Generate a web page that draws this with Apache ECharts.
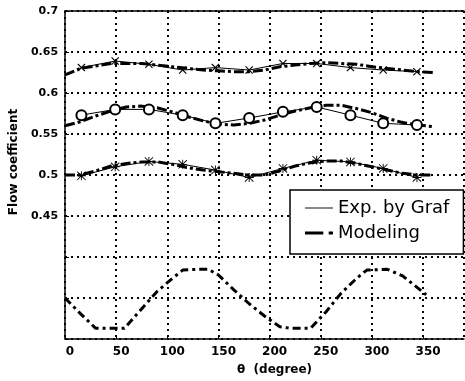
<!DOCTYPE html>
<html><head><meta charset="utf-8">
<script src="https://cdn.jsdelivr.net/npm/echarts@6/dist/echarts.min.js"></script>
<style>html,body{margin:0;padding:0;background:#fff}#c{width:465px;height:381px}</style>
</head><body><div id="c"></div>
<script>
// ---- data ----
const thetaExp = [16, 49, 82, 115, 147, 180, 213, 246, 279, 311, 344];
const expTop = [0.631, 0.639, 0.635, 0.628, 0.631, 0.628, 0.636, 0.636, 0.631, 0.628, 0.626];
const expMid = [0.573, 0.580, 0.580, 0.573, 0.563, 0.5695, 0.577, 0.583, 0.573, 0.563, 0.561];
const expLow = [0.499, 0.510, 0.5165, 0.513, 0.506, 0.497, 0.508, 0.518, 0.516, 0.508, 0.497];

const thetaModel = [0, 15, 30, 45, 60, 75, 90, 105, 120, 135, 150, 165, 180, 195, 210, 225, 240, 255, 270, 285, 300, 315, 330, 345, 360];
const modelTop = [0.622, 0.630, 0.633, 0.636, 0.636, 0.636, 0.634, 0.632, 0.630, 0.628, 0.627, 0.626, 0.626, 0.628, 0.632, 0.634, 0.636, 0.637, 0.636, 0.635, 0.632, 0.630, 0.628, 0.626, 0.625];
const modelMid = [0.560, 0.565, 0.572, 0.578, 0.583, 0.584, 0.582, 0.577, 0.571, 0.566, 0.562, 0.561, 0.563, 0.567, 0.573, 0.578, 0.582, 0.585, 0.585, 0.581, 0.576, 0.569, 0.564, 0.561, 0.559];
const modelLow = [0.500, 0.500, 0.505, 0.511, 0.514, 0.516, 0.516, 0.513, 0.509, 0.506, 0.504, 0.502, 0.500, 0.500, 0.505, 0.511, 0.515, 0.517, 0.517, 0.514, 0.510, 0.506, 0.502, 0.500, 0.500];

const thetaProfile = [0, 15, 30, 45, 58, 75, 90, 105, 115, 130, 140, 150, 165, 180, 195, 210, 220, 240, 255, 270, 285, 295, 315, 330, 345, 353];
const profile = [0.350, 0.331, 0.313, 0.313, 0.313, 0.337, 0.358, 0.374, 0.384, 0.385, 0.385, 0.378, 0.360, 0.343, 0.328, 0.315, 0.313, 0.313, 0.333, 0.356, 0.374, 0.384, 0.385, 0.377, 0.362, 0.354];

const xTickLabels = ['0', '50', '100', '150', '200', '250', '300', '350'];
const yTickLabels = ['0.45', '0.5', '0.55', '0.6', '0.65', '0.7'];

// ---- helpers ----
const zip = (xs, ys) => xs.map((x, i) => [x, ys[i]]);
const X_SYM = 'path://M0,1 L1,0 L5,4 L9,0 L10,1 L6,5 L10,9 L9,10 L5,6 L1,10 L0,9 L4,5 Z';
const STAR_SYM = 'path://M4.5,0 H5.5 V10 H4.5 Z M0,4.5 H10 V5.5 H0 Z M0.7,0 L10,9.3 L9.3,10 L0,0.7 Z M9.3,0 L10,0.7 L0.7,10 L0,9.3 Z';
const dotted = { color: '#000', width: 2, type: [2, 4] };
const axisFont = { color: '#000', fontFamily: 'DejaVu Sans', fontWeight: 'bold' };

const modelStyle = { color: '#000', width: 3, type: [10, 3, 3, 3] };
const modelSeries = (name, xs, ys) => ({
  name, type: 'line', data: zip(xs, ys), symbol: 'none', smooth: false,
  lineStyle: modelStyle, itemStyle: { color: '#000' }, z: 2
});
const expSeries = (xs, ys, symbol, size, itemStyle) => ({
  name: 'Exp. by Graf', type: 'line', data: zip(xs, ys), symbol, symbolSize: size,
  lineStyle: { color: '#000', width: 1 }, itemStyle, z: 3
});

const chart = echarts.init(document.getElementById('c'), null, { renderer: 'canvas' });
chart.setOption({
  backgroundColor: '#fff',
  animation: false,
  grid: { left: 56, right: 1, top: 11, bottom: 42, containLabel: false },
  xAxis: [{
    type: 'value', min: 0, max: 390, interval: 50,
    name: 'θ  (degree)', nameLocation: 'middle', nameGap: 25,
    nameTextStyle: Object.assign({ fontSize: 12, padding: [0, 0, 0, 20] }, axisFont),
    axisLine: { lineStyle: { color: '#000', width: 1.5 } },
    axisTick: { inside: true, length: 4, lineStyle: { color: '#000' } },
    axisLabel: Object.assign({
      fontSize: 12, margin: 7, showMaxLabel: false, padding: [0, 0, 0, 10],
      formatter: v => { const i = Math.round(v / 50); return (v <= 350 && Math.abs(v - i * 50) < 1e-6) ? xTickLabels[i] : ''; }
    }, axisFont),
    splitLine: { show: true, lineStyle: dotted }
  }, {
    type: 'value', position: 'top', min: 0, max: 390,
    axisLine: { show: true, lineStyle: { color: '#000', width: 1.5 } },
    axisTick: { show: false }, axisLabel: { show: false }, splitLine: { show: false }
  }],
  yAxis: {
    type: 'value', min: 0.3, max: 0.7, interval: 0.05,
    name: 'Flow coefficient', nameLocation: 'middle', nameGap: 44, nameRotate: 90,
    nameTextStyle: Object.assign({ fontSize: 12, padding: [0, 0, 0, 26] }, axisFont),
    axisLine: { show: true, lineStyle: { color: '#000', width: 1.5 } },
    axisTick: { show: true, inside: true, length: 4, lineStyle: { color: '#000' } },
    axisLabel: Object.assign({
      fontSize: 11, margin: 7,
      formatter: v => { const s = String(+v.toFixed(2)); return yTickLabels.includes(s) ? s : ''; }
    }, axisFont),
    splitLine: { show: true, lineStyle: dotted }
  },
  legend: {
    orient: 'vertical', left: 290, top: 190,
    padding: [9, 14, 12, 15], itemGap: 7, itemWidth: 28, itemHeight: 10,
    backgroundColor: '#fff', borderColor: '#000', borderWidth: 1.5, borderRadius: 0,
    textStyle: { color: '#000', fontSize: 18, fontFamily: 'DejaVu Sans' },
    data: [
      { name: 'Exp. by Graf', icon: 'path://M0,0H30V1H0Z', itemStyle: { color: '#000', borderWidth: 0 } },
      { name: 'Modeling', icon: 'path://M0,0H17V3H0Z M22,0H26V3H22Z', itemStyle: { color: '#000', borderWidth: 0 } }
    ]
  },
  series: [
    modelSeries('Modeling', thetaModel, modelTop),
    modelSeries('Modeling', thetaModel, modelMid),
    modelSeries('Modeling', thetaModel, modelLow),
    Object.assign(modelSeries('Profile', thetaProfile, profile), { lineStyle: { color: '#000', width: 3, type: [8, 4, 3, 4] } }),
    expSeries(thetaExp, expTop, X_SYM, 8, { color: '#000' }),
    expSeries(thetaExp, expMid, 'emptyCircle', 10, { color: '#000', borderColor: '#000', borderWidth: 1.5 }),
    expSeries(thetaExp, expLow, STAR_SYM, 9, { color: '#000' })
  ]
});
</script></body></html>
